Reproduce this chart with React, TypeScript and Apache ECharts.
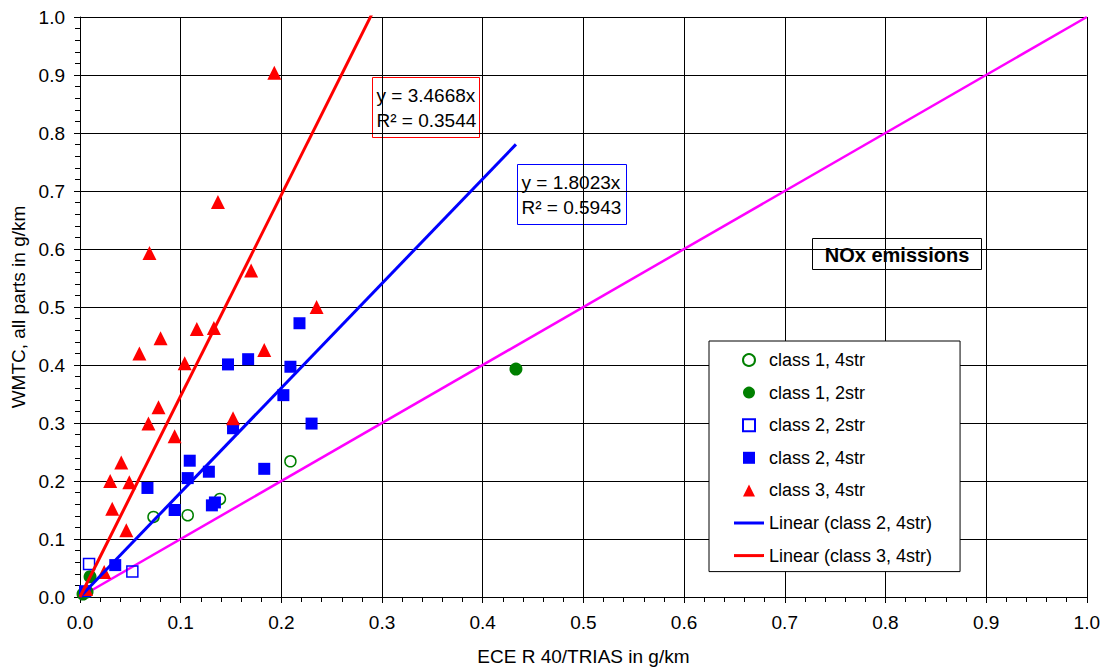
import React, { useEffect, useRef } from "react";
import * as echarts from "echarts";

// ---- data (x = ECE R 40/TRIAS g/km, y = WMTC g/km) ----
const class1_4str: number[][] = [
  [0.073, 0.138], [0.107, 0.141], [0.139, 0.169], [0.209, 0.234],
];
const class1_2str: number[][] = [
  [0.003, 0.005], [0.007, 0.009], [0.010, 0.035], [0.433, 0.393],
];
const class2_2str: number[][] = [
  [0.009, 0.057], [0.052, 0.044],
];
const class2_4str: number[][] = [
  [0.005, 0.010], [0.035, 0.055], [0.067, 0.188], [0.094, 0.150], [0.107, 0.205],
  [0.109, 0.235], [0.128, 0.216], [0.131, 0.158], [0.134, 0.163], [0.147, 0.401],
  [0.152, 0.291], [0.167, 0.410], [0.183, 0.221], [0.202, 0.348], [0.209, 0.397],
  [0.218, 0.472], [0.230, 0.299],
];
const class3_4str: number[][] = [
  [0.006, 0.014], [0.024, 0.043], [0.030, 0.200], [0.032, 0.152], [0.041, 0.232],
  [0.046, 0.115], [0.049, 0.198], [0.059, 0.420], [0.068, 0.299], [0.069, 0.593],
  [0.078, 0.327], [0.080, 0.446], [0.094, 0.277], [0.104, 0.403], [0.116, 0.462],
  [0.133, 0.464], [0.137, 0.681], [0.152, 0.308], [0.170, 0.563], [0.183, 0.426],
  [0.193, 0.904], [0.235, 0.500],
];
const slopeClass2 = 1.8023;
const slopeClass3 = 3.4668;
const r2Class2 = 0.5943;
const r2Class3 = 0.3544;
const trendXMax = 0.433;
const referenceLine: number[][] = [[0, 0], [1, 1]];
const seriesNames = [
  "class 1, 4str",
  "class 1, 2str",
  "class 2, 2str",
  "class 2, 4str",
  "class 3, 4str",
  "Linear (class 2, 4str)",
  "Linear (class 3, 4str)",
];

const FONT = "'Liberation Sans', Arial, sans-serif";
const GREEN = "#008000";
const BLUE = "#0000ff";
const RED = "#ff0000";
const MAGENTA = "#ff00ff";

const ICON_SQUARE = "path://M0,0L10,0L10,10L0,10Z";
const ICON_TRIANGLE = "path://M5,0L10,10L0,10Z";
const ICON_LINE = "path://M0,0L30,0L30,3L0,3Z";

function trend(slope: number): number[][] {
  return [[0, 0], [trendXMax, slope * trendXMax]];
}

function labelBox(left: number, top: number, w: number, h: number, color: string, lines: string[]) {
  return {
    type: "group",
    left,
    top,
    z: 100,
    children: [
      { type: "rect", shape: { x: 0, y: 0, width: w, height: h }, style: { fill: "#fff", stroke: color, lineWidth: 1 } },
      {
        type: "text",
        x: 4,
        y: 5,
        style: { text: lines.join("\n"), font: `19px ${FONT}`, fill: "#000", lineHeight: 25 },
      },
    ],
  };
}

export default function App() {
  const ref = useRef<HTMLDivElement>(null);
  useEffect(() => {
    const chart = echarts.init(ref.current!, null, { renderer: "svg" });
    const axisCommon = {
      type: "value",
      min: 0,
      max: 1,
      interval: 0.1,
      axisLine: { show: true, onZero: false, lineStyle: { color: "#000", width: 1 } },
      axisTick: { show: true, length: 6, lineStyle: { color: "#000" } },
      minorTick: { show: true, splitNumber: 5, length: 5, lineStyle: { color: "#000" } },
      splitLine: { show: true, lineStyle: { color: "#000", width: 1 } },
      axisLabel: {
        color: "#000",
        fontSize: 19,
        fontFamily: FONT,
        formatter: (v: number) => v.toFixed(1),
      },
      nameLocation: "middle",
      nameTextStyle: { color: "#000", fontSize: 19, fontFamily: FONT },
    };
    const option: any = {
      animation: false,
      backgroundColor: "#fff",
      textStyle: { fontFamily: FONT },
      grid: { left: 80, right: 16, top: 17, bottom: 74, containLabel: false },
      xAxis: {
        ...axisCommon,
        name: "ECE R 40/TRIAS in g/km",
        nameGap: 50,
        axisLabel: { ...axisCommon.axisLabel, margin: 16 },
      },
      yAxis: {
        ...axisCommon,
        name: "WMTC, all parts in g/km",
        nameGap: 50,
        axisLabel: { ...axisCommon.axisLabel, margin: 15 },
      },
      legend: {
        data: [
          { name: seriesNames[0], icon: "circle" },
          { name: seriesNames[1], icon: "circle" },
          { name: seriesNames[2], icon: ICON_SQUARE },
          { name: seriesNames[3], icon: ICON_SQUARE },
          { name: seriesNames[4], icon: ICON_TRIANGLE },
          { name: seriesNames[5], icon: ICON_LINE },
          { name: seriesNames[6], icon: ICON_LINE },
        ],
        symbolKeepAspect: true,
        orient: "vertical",
        left: 709,
        top: 341,
        padding: [9, 28, 6, 25],
        itemGap: 12.6,
        itemWidth: 30,
        itemHeight: 12,
        backgroundColor: "#fff",
        borderColor: "#000",
        borderWidth: 1,
        borderRadius: 0,
        textStyle: { color: "#000", fontSize: 18, fontFamily: FONT, lineHeight: 20 },
      },
      graphic: [
        labelBox(372, 77, 107, 60, RED, [
          `y = ${slopeClass3.toFixed(4)}x`,
          `R² = ${r2Class3.toFixed(4)}`,
        ]),
        labelBox(517, 164, 109, 60, BLUE, [
          `y = ${slopeClass2.toFixed(4)}x`,
          `R² = ${r2Class2.toFixed(4)}`,
        ]),
        {
          type: "group",
          left: 812,
          top: 238,
          z: 100,
          children: [
            { type: "rect", shape: { x: 0, y: 0, width: 169, height: 31 }, style: { fill: "#fff", stroke: "#000", lineWidth: 1 } },
            {
              type: "text",
              x: 84.5,
              y: 16,
              style: { text: "NOx emissions", font: `bold 20px ${FONT}`, fill: "#000", align: "center", verticalAlign: "middle" },
            },
          ],
        },
      ],
      series: [
        {
          name: "1:1",
          type: "line",
          data: referenceLine,
          showSymbol: false,
          symbol: "none",
          lineStyle: { color: MAGENTA, width: 2.5 },
          itemStyle: { color: MAGENTA },
          z: 2,
        },
        {
          name: seriesNames[0],
          type: "scatter",
          data: class1_4str,
          symbol: "circle",
          symbolSize: 11,
          itemStyle: { color: "rgba(255,255,255,0)", borderColor: GREEN, borderWidth: 1.5, opacity: 1 },
          z: 3,
        },
        {
          name: seriesNames[1],
          type: "scatter",
          data: class1_2str,
          symbol: "circle",
          symbolSize: 13,
          itemStyle: { color: GREEN, opacity: 1 },
          z: 3,
        },
        {
          name: seriesNames[2],
          type: "scatter",
          data: class2_2str,
          symbol: "rect",
          symbolSize: 11,
          itemStyle: { color: "rgba(255,255,255,0)", borderColor: BLUE, borderWidth: 1.5, opacity: 1 },
          z: 3,
        },
        {
          name: seriesNames[3],
          type: "scatter",
          data: class2_4str,
          symbol: "rect",
          symbolSize: 12,
          itemStyle: { color: BLUE, opacity: 1 },
          z: 3,
        },
        {
          name: seriesNames[4],
          type: "scatter",
          data: class3_4str,
          symbol: "triangle",
          symbolSize: 14,
          itemStyle: { color: RED, opacity: 1 },
          z: 3,
        },
        {
          name: seriesNames[5],
          type: "line",
          data: trend(slopeClass2),
          showSymbol: false,
          symbol: "none",
          clip: true,
          lineStyle: { color: BLUE, width: 3 },
          itemStyle: { color: BLUE },
          z: 4,
        },
        {
          name: seriesNames[6],
          type: "line",
          data: trend(slopeClass3),
          showSymbol: false,
          symbol: "none",
          clip: true,
          lineStyle: { color: RED, width: 3 },
          itemStyle: { color: RED },
          z: 4,
        },
      ],
    };
    chart.setOption(option);
    return () => chart.dispose();
  }, []);
  return (
    <div
      ref={ref}
      style={{ position: "absolute", left: 0, top: 0, width: 1103, height: 671, background: "#fff" }}
    />
  );
}
